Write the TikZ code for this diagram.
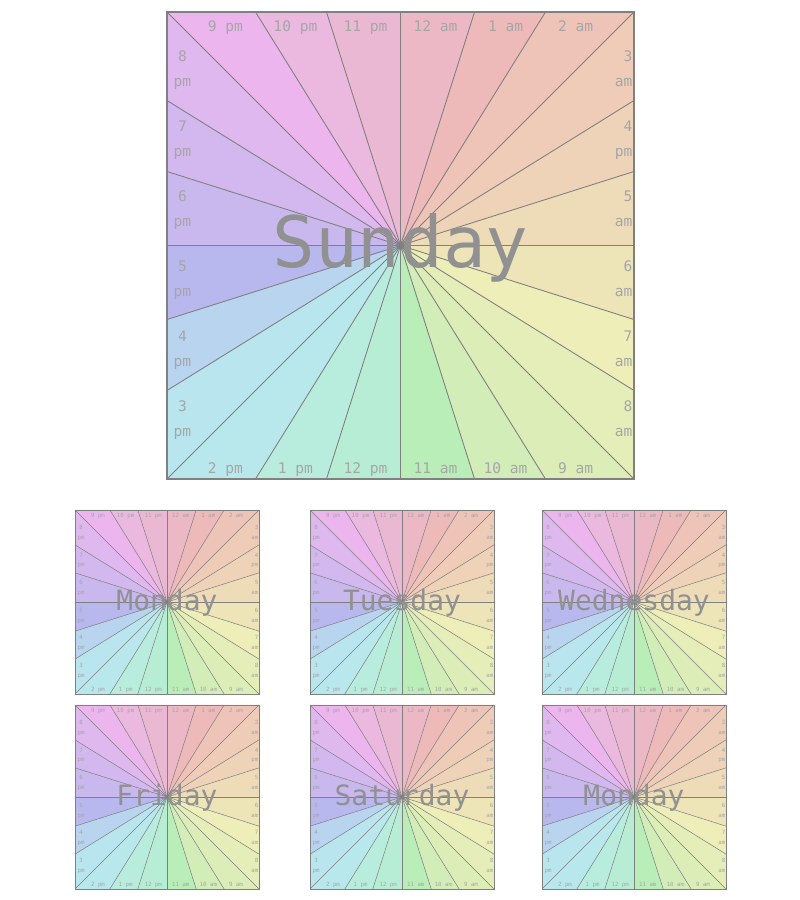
\documentclass[tikz,border=0pt]{standalone}
\usepackage{fontspec}
\newfontfamily\clockfont{DejaVu Sans Mono}
\usetikzlibrary{calc}

% one colour per hour, clockwise from 12 am
\definecolor{hr0}{HTML}{EDB8C5}\definecolor{hr1}{HTML}{EDB9B9}\definecolor{hr2}{HTML}{EEC3B8}
\definecolor{hr3}{HTML}{EECCB8}\definecolor{hr4}{HTML}{EED3B8}\definecolor{hr5}{HTML}{EEDCB8}
\definecolor{hr6}{HTML}{EDE4B8}\definecolor{hr7}{HTML}{EEEEB8}\definecolor{hr8}{HTML}{E5EDB8}
\definecolor{hr9}{HTML}{DDEDB8}\definecolor{hr10}{HTML}{D2EDB8}\definecolor{hr11}{HTML}{B9EEB9}
\definecolor{hr12}{HTML}{B8EDD5}\definecolor{hr13}{HTML}{B8EDDE}\definecolor{hr14}{HTML}{B8E7EC}
\definecolor{hr15}{HTML}{B8E5EE}\definecolor{hr16}{HTML}{B8D4EE}\definecolor{hr17}{HTML}{B8B8EE}
\definecolor{hr18}{HTML}{C8B8EE}\definecolor{hr19}{HTML}{D2B8EE}\definecolor{hr20}{HTML}{DEB8EE}
\definecolor{hr21}{HTML}{ECB5EE}\definecolor{hr22}{HTML}{EBB8E0}\definecolor{hr23}{HTML}{EBB8D3}

\tikzset{
  ray/.style={draw=black!50, line width=0.5pt},
  facebox/.style={draw=black!50, line width=0.6pt},
  hourlabel/.style={text=black!35, font=\clockfont\fontsize{8.3}{14.2}\selectfont, align=center, inner sep=0pt},
  sidelabel/.style={hourlabel, text depth=2pt},
  daylabel/.style={text=black!43, font=\clockfont\fontsize{40.4}{48}\selectfont, inner sep=0pt, anchor=base},
}

\newcommand\dayface[1]{%
\begin{scope}[x=4.67cm,y=4.67cm]
\coordinate (o) at (0,0);
\foreach \px/\py [count=\k from 0] in {0/1,0.317/1,0.621/1,1/1,1/0.621,1/0.317,1/0,1/-0.317,1/-0.621,1/-1,0.621/-1,0.317/-1,0/-1,-0.317/-1,-0.621/-1,-1/-1,-1/-0.621,-1/-0.317,-1/0,-1/0.317,-1/0.621,-1/1,-0.621/1,-0.317/1}
  \coordinate (p\k) at (\px,\py);
\coordinate (p24) at (0,1);
\foreach \k [evaluate=\k as \j using int(\k+1)] in {0,...,23}
  \fill[fill=hr\k] (o) -- (p\k) -- (p\j) -- cycle;
\foreach \k in {0,...,23}
  \draw[ray] (o) -- (p\k);
\draw[facebox] (-1,-1) rectangle (1,1);
% top and bottom edges
\foreach \x/\t/\b [count=\k] in {-0.75/9 pm/2 pm,-0.45/10 pm/1 pm,-0.15/11 pm/12 pm,0.15/12 am/11 am,0.45/1 am/10 am,0.75/2 am/9 am}
  {\node[hourlabel, anchor=base] (top\k) at (\x,0.917) {\t};
   \node[hourlabel, anchor=base] (bot\k) at (\x,-0.977) {\b};}
% left and right edges
\foreach \y/\l/\r [count=\k] in {0.75/8\\pm/3\\am,0.45/7\\pm/4\\pm,0.15/6\\pm/5\\am,-0.15/5\\pm/6\\am,-0.45/4\\pm/7\\am,-0.75/3\\pm/8\\am}
  {\node[sidelabel] (lft\k) at (-0.934,\y) {\l};
   \node[sidelabel, anchor=east, align=right] (rgt\k) at (0.995,\y) {\r};}
\node[daylabel] (day) at (0,-0.095) {#1};
\end{scope}}

\begin{document}
\begin{tikzpicture}
\useasboundingbox (0,0) rectangle (16,18);
\begin{scope}[shift={(8.01,13.09)}]
\dayface{Sunday}
\end{scope}
% the small ones
\foreach \cx/\cy/\dname in {3.34/5.96/Monday,8.04/5.96/Tuesday,12.68/5.96/Wednesday,3.34/2.06/Friday,8.04/2.06/Saturday,12.68/2.06/Monday}
{
\begin{scope}[shift={(\cx,\cy)}, scale=0.394, transform shape, ray/.append style={line width=0.3pt}, facebox/.append style={line width=0.4pt}]
\dayface{\dname}
\end{scope}
}
\end{tikzpicture}
\end{document}
